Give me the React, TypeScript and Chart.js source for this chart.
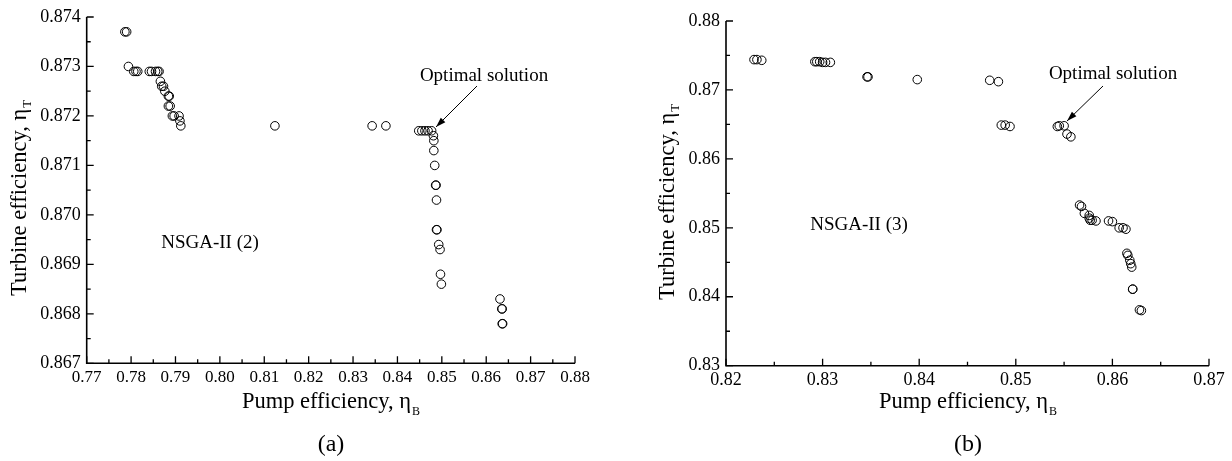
import React, { useEffect, useRef } from "react";
import { Chart, registerables } from "chart.js";

Chart.register(...registerables);

// ---------- data: panel (a) NSGA-II (2) ----------
const pumpA = [
  0.7786, 0.7790, 0.7794,
  0.7806, 0.7811, 0.7815,
  0.7841, 0.7846, 0.7855, 0.7860, 0.7863,
  0.7866, 0.7869, 0.7873, 0.7876,
  0.7884, 0.7886, 0.7884, 0.7888,
  0.7893, 0.7897, 0.7908, 0.7910, 0.7912,
  0.8124,
  0.8343, 0.8374,
  0.8448, 0.8455, 0.8462, 0.8469, 0.8477,
  0.8481, 0.8482, 0.8482, 0.8484, 0.8486, 0.8487, 0.8488,
  0.8488, 0.8489, 0.8493, 0.8496, 0.8497, 0.8499,
  0.8631, 0.8635, 0.8636, 0.8636, 0.8637,
];
const turbineA = [
  0.8737, 0.8737, 0.8730,
  0.8729, 0.8729, 0.8729,
  0.8729, 0.8729, 0.8729, 0.8729, 0.8729,
  0.8727, 0.8726, 0.8726, 0.8725,
  0.8724, 0.8724, 0.8722, 0.8722,
  0.8720, 0.8720, 0.8720, 0.8719, 0.8718,
  0.8718,
  0.8718, 0.8718,
  0.8717, 0.8717, 0.8717, 0.8717, 0.8717,
  0.8716, 0.8715, 0.8713, 0.8710, 0.8706, 0.8706, 0.8703,
  0.8697, 0.8697, 0.8694, 0.8693, 0.8688, 0.8686,
  0.8683, 0.8681, 0.8681, 0.8678, 0.8678,
];
const xTicksA = [0.77, 0.78, 0.79, 0.80, 0.81, 0.82, 0.83, 0.84, 0.85, 0.86, 0.87, 0.88];
const yTicksA = [0.867, 0.868, 0.869, 0.870, 0.871, 0.872, 0.873, 0.874];

// ---------- data: panel (b) NSGA-II (3) ----------
const pumpB = [
  0.8229, 0.8232, 0.8237,
  0.8292, 0.8294, 0.8297, 0.8300, 0.8303, 0.8308,
  0.8346, 0.8347,
  0.8398,
  0.8473, 0.8482,
  0.8485, 0.8489, 0.8494,
  0.8543, 0.8545, 0.8550, 0.8553, 0.8557,
  0.8566, 0.8568, 0.8571, 0.8576, 0.8576, 0.8577, 0.8579, 0.8583,
  0.8596, 0.8600,
  0.8607, 0.8611, 0.8614,
  0.8615, 0.8616, 0.8618, 0.8619, 0.8620,
  0.8621, 0.8621,
  0.8628, 0.8630,
];
const turbineB = [
  0.8744, 0.8744, 0.8743,
  0.8741, 0.8741, 0.8741, 0.8740, 0.8740, 0.8740,
  0.8719, 0.8719,
  0.8715,
  0.8714, 0.8712,
  0.8649, 0.8649, 0.8647,
  0.8647, 0.8648, 0.8648, 0.8636, 0.8632,
  0.8533, 0.8531, 0.8521, 0.8518, 0.8514, 0.8511, 0.8511, 0.8510,
  0.8510, 0.8509,
  0.8500, 0.8500, 0.8498,
  0.8463, 0.8460, 0.8453, 0.8448, 0.8443,
  0.8411, 0.8411,
  0.8381, 0.8380,
];
const xTicksB = [0.82, 0.83, 0.84, 0.85, 0.86, 0.87];
const yTicksB = [0.83, 0.84, 0.85, 0.86, 0.87, 0.88];

const SERIF = '"Liberation Serif", "Times New Roman", serif';

type PanelCfg = {
  pump: number[];
  turbine: number[];
  xTicks: number[];
  yTicks: number[];
  xDec: number;
  yDec: number;
  xFont: number;
  yAxisW: number;
  xAxisH: number;
  padTop: number;
  padRight: number;
  yTitle: [number, number];
  xTitle: [number, number];
  panelLabel: string;
  panelPos: [number, number];
  tag: string;
  tagPos: [number, number];
  optPos: [number, number];
  arrow: [number, number, number, number];
};

const panelA: PanelCfg = {
  pump: pumpA,
  turbine: turbineA,
  xTicks: xTicksA,
  yTicks: yTicksA,
  xDec: 2,
  yDec: 3,
  xFont: 17,
  yAxisW: 86.7,
  xAxisH: 97.7,
  padTop: 17,
  padRight: 41,
  yTitle: [18.5, 198],
  xTitle: [331, 408],
  panelLabel: "(a)",
  panelPos: [331, 451],
  tag: "NSGA-II (2)",
  tagPos: [210, 248],
  optPos: [484, 81],
  arrow: [477, 86, 436, 127],
};

const panelB: PanelCfg = {
  pump: pumpB,
  turbine: turbineB,
  xTicks: xTicksB,
  yTicks: yTicksB,
  xDec: 2,
  yDec: 2,
  xFont: 18,
  yAxisW: 110,
  xAxisH: 95.3,
  padTop: 21,
  padRight: 23,
  yTitle: [50.5, 202],
  xTitle: [352, 408],
  panelLabel: "(b)",
  panelPos: [352, 451],
  tag: "NSGA-II (3)",
  tagPos: [243, 230],
  optPos: [497, 79],
  arrow: [487, 86, 451, 121],
};

function subText(
  ctx: CanvasRenderingContext2D,
  main: string,
  sub: string,
  x: number,
  y: number,
  size: number,
  subSize: number,
  subDy: number
) {
  ctx.font = `${size}px ${SERIF}`;
  const w1 = ctx.measureText(main).width;
  ctx.font = `${subSize}px ${SERIF}`;
  const w2 = ctx.measureText(sub).width;
  const x0 = x - (w1 + w2 + 1) / 2;
  ctx.textAlign = "left";
  ctx.textBaseline = "alphabetic";
  ctx.font = `${size}px ${SERIF}`;
  ctx.fillText(main, x0, y);
  ctx.font = `${subSize}px ${SERIF}`;
  ctx.fillText(sub, x0 + w1 + 1, y + subDy);
}

const decorPlugin = {
  id: "decor",
  afterDraw(chart: any, _args: any, opts: any) {
    const p: PanelCfg = opts.panel;
    const ctx: CanvasRenderingContext2D = chart.ctx;
    const { left, right, top, bottom } = chart.chartArea;
    const xs = chart.scales.x;
    const ys = chart.scales.y;
    ctx.save();
    ctx.strokeStyle = "#000";
    ctx.fillStyle = "#000";
    // axis lines
    ctx.lineWidth = 1.6;
    ctx.beginPath();
    ctx.moveTo(left, top);
    ctx.lineTo(left, bottom);
    ctx.lineTo(right, bottom);
    ctx.stroke();
    // inward ticks
    ctx.lineWidth = 1.3;
    ctx.beginPath();
    p.xTicks.forEach((v, i) => {
      const px = xs.getPixelForValue(v);
      ctx.moveTo(px, bottom);
      ctx.lineTo(px, bottom - 7);
      if (i < p.xTicks.length - 1) {
        const mx = xs.getPixelForValue((v + p.xTicks[i + 1]) / 2);
        ctx.moveTo(mx, bottom);
        ctx.lineTo(mx, bottom - 4);
      }
    });
    p.yTicks.forEach((v, i) => {
      const py = ys.getPixelForValue(v);
      ctx.moveTo(left, py);
      ctx.lineTo(left + 7, py);
      if (i < p.yTicks.length - 1) {
        const my = ys.getPixelForValue((v + p.yTicks[i + 1]) / 2);
        ctx.moveTo(left, my);
        ctx.lineTo(left + 4, my);
      }
    });
    ctx.stroke();

    // y title (rotated)
    ctx.save();
    ctx.translate(p.yTitle[0], p.yTitle[1]);
    ctx.rotate(-Math.PI / 2);
    subText(ctx, "Turbine efficiency, \u03b7", "T", 0, 7, 22.5, 12.5, 5);
    ctx.restore();

    // x title
    subText(ctx, "Pump efficiency, \u03b7", "B", p.xTitle[0], p.xTitle[1], 22.5, 12, 6.5);

    // panel label
    ctx.font = `24px ${SERIF}`;
    ctx.textAlign = "center";
    ctx.textBaseline = "alphabetic";
    ctx.fillText(p.panelLabel, p.panelPos[0], p.panelPos[1]);

    // tag
    ctx.font = `19px ${SERIF}`;
    ctx.fillText(p.tag, p.tagPos[0], p.tagPos[1]);

    // optimal solution
    ctx.fillText("Optimal solution", p.optPos[0], p.optPos[1]);

    // arrow
    const [x1, y1, x2, y2] = p.arrow;
    ctx.lineWidth = 1;
    ctx.beginPath();
    ctx.moveTo(x1, y1);
    ctx.lineTo(x2, y2);
    ctx.stroke();
    const ang = Math.atan2(y2 - y1, x2 - x1);
    const L = 10;
    const W = 3.2;
    ctx.beginPath();
    ctx.moveTo(x2, y2);
    ctx.lineTo(
      x2 - L * Math.cos(ang) + W * Math.sin(ang),
      y2 - L * Math.sin(ang) - W * Math.cos(ang)
    );
    ctx.lineTo(
      x2 - L * Math.cos(ang) - W * Math.sin(ang),
      y2 - L * Math.sin(ang) + W * Math.cos(ang)
    );
    ctx.closePath();
    ctx.fill();
    ctx.restore();
  },
};

function Panel({ cfg, left }: { cfg: PanelCfg; left: number }) {
  const ref = useRef<HTMLCanvasElement>(null);
  useEffect(() => {
    if (!ref.current) return;
    const xMin = cfg.xTicks[0];
    const xMax = cfg.xTicks[cfg.xTicks.length - 1];
    const yMin = cfg.yTicks[0];
    const yMax = cfg.yTicks[cfg.yTicks.length - 1];
    const chart = new Chart(ref.current, {
      type: "scatter",
      data: {
        datasets: [
          {
            data: cfg.pump.map((x, i) => ({ x, y: cfg.turbine[i] })),
            pointStyle: "circle",
            pointRadius: 4.3,
            pointBorderWidth: 1,
            pointBorderColor: "#000",
            pointBackgroundColor: "rgba(0,0,0,0)",
            showLine: false,
          } as any,
        ],
      },
      options: {
        animation: false,
        responsive: false,
        devicePixelRatio: 1,
        events: [],
        layout: { padding: { top: cfg.padTop, right: cfg.padRight, left: 0, bottom: 0 } },
        plugins: {
          legend: { display: false },
          tooltip: { enabled: false },
          decor: { panel: cfg },
        } as any,
        scales: {
          x: {
            type: "linear",
            min: xMin,
            max: xMax,
            afterBuildTicks: (s: any) => {
              s.ticks = cfg.xTicks.map((v) => ({ value: v }));
            },
            afterFit: (s: any) => {
              s.height = cfg.xAxisH;
            },
            ticks: {
              callback: (v: any) => Number(v).toFixed(cfg.xDec),
              font: { family: SERIF, size: cfg.xFont },
              color: "#000",
              padding: 4,
              maxRotation: 0,
              autoSkip: false,
            },
            grid: { display: false, drawTicks: false },
            border: { display: false },
          },
          y: {
            type: "linear",
            min: yMin,
            max: yMax,
            afterBuildTicks: (s: any) => {
              s.ticks = cfg.yTicks.map((v) => ({ value: v }));
            },
            afterFit: (s: any) => {
              s.width = cfg.yAxisW;
            },
            ticks: {
              callback: (v: any) => Number(v).toFixed(cfg.yDec),
              font: { family: SERIF, size: 18 },
              color: "#000",
              padding: 6,
              autoSkip: false,
            },
            grid: { display: false, drawTicks: false },
            border: { display: false },
          },
        },
      },
      plugins: [decorPlugin],
    });
    return () => chart.destroy();
  }, [cfg]);
  return (
    <canvas
      ref={ref}
      width={616}
      height={461}
      style={{ position: "absolute", left, top: 0, width: 616, height: 461 }}
    />
  );
}

export default function App() {
  return (
    <div
      style={{
        position: "fixed",
        left: 0,
        top: 0,
        width: 1232,
        height: 461,
        background: "#fff",
        overflow: "hidden",
      }}
    >
      <Panel cfg={panelA} left={0} />
      <Panel cfg={panelB} left={616} />
    </div>
  );
}
